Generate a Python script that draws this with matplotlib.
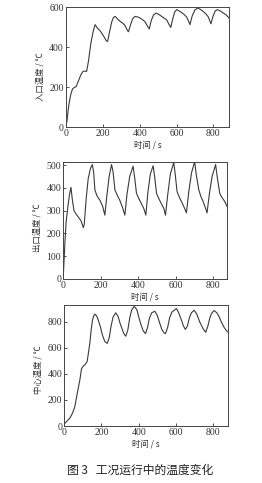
import matplotlib
matplotlib.use("Agg")
import matplotlib.pyplot as plt

# ---- data ----
t_in = [0, 5, 15, 25, 35, 45, 55, 65, 80, 92, 100, 112, 122, 135, 148, 158, 170, 186, 204, 218, 226,
        235, 248, 258, 267, 280, 294, 310, 322, 332, 339, 350, 362, 375, 390, 402, 418, 430, 442, 452,
        462, 475, 490, 505, 520, 535, 547, 558, 569, 578, 590, 601, 615, 628, 642, 655, 665, 673, 685,
        700, 715, 730, 745, 760, 773, 781, 787, 797, 810, 822, 838, 854, 870, 885]
T_in = [5, 30, 110, 160, 190, 198, 202, 225, 260, 278, 280, 278, 330, 420, 480, 512, 495, 480, 455, 432, 428,
        470, 525, 548, 553, 540, 528, 518, 505, 485, 476, 510, 542, 553, 550, 545, 535, 525, 505, 490,
        530, 560, 570, 562, 553, 543, 535, 515, 498, 535, 575, 587, 580, 572, 562, 550, 530, 512, 555,
        585, 595, 588, 578, 565, 550, 530, 516, 550, 580, 587, 580, 570, 560, 545]

t_out = [0, 8, 15, 25, 33, 41, 48, 57, 68, 80, 95, 107, 112, 122, 133, 145, 155, 162, 169, 180, 196, 210,
         222, 232, 245, 258, 266, 276, 290, 302, 318, 329, 340, 355, 373, 382, 391, 405, 418, 432, 441,
         452, 465, 480, 488, 498, 512, 524, 537, 546, 558, 572, 590, 598, 608, 622, 636, 648, 658, 670,
         685, 702, 710, 724, 736, 747, 758, 768, 780, 795, 814, 822, 836, 846, 857, 866, 875]
T_out = [10, 150, 250, 320, 370, 402, 350, 300, 285, 272, 255, 225, 240, 350, 440, 485, 502, 470, 390, 365, 345, 320,
         280, 360, 450, 502, 470, 390, 365, 345, 310, 280, 370, 450, 495, 440, 376, 350, 330, 305, 280,
         380, 460, 497, 450, 376, 350, 330, 310, 280, 370, 460, 512, 460, 383, 355, 332, 310, 290, 380,
         465, 515, 460, 391, 360, 340, 315, 290, 370, 450, 502, 450, 376, 360, 347, 335, 318]

t_mid = [0, 10, 20, 30, 45, 57, 70, 84, 93, 102, 111, 123, 130, 138, 145, 152, 158, 165, 175, 185, 195, 205,
         218, 231, 242, 252, 263, 277, 290, 300, 310, 320, 331, 342, 352, 362, 376, 390, 400, 412, 425,
         437, 448, 458, 470, 487, 500, 513, 525, 537, 544, 556, 566, 578, 603, 615, 630, 640, 651, 662,
         672, 683, 698, 712, 728, 745, 760, 772, 782, 791, 805, 820, 832, 844, 858, 870, 877]
T_mid = [15, 30, 45, 60, 100, 148, 250, 353, 440, 460, 470, 495, 560, 640, 740, 813, 845, 860, 845, 805, 760, 700,
         650, 635, 680, 770, 840, 870, 840, 790, 750, 710, 690, 740, 830, 890, 920, 895, 840, 780, 730,
         710, 760, 830, 870, 882, 850, 790, 740, 715, 710, 760, 830, 875, 903, 870, 813, 770, 742, 770,
         830, 870, 890, 860, 800, 750, 720, 770, 830, 864, 888, 870, 840, 800, 760, 735, 724]

ylabels = ["入口温度 / ℃", "出口温度 / ℃", "中心温度 / ℃"]
xlabel = "时间 / s"
caption = "图 3   工况运行中的温度变化"

CJK = ["Noto Sans CJK SC", "DejaVu Sans"]
NUM = ["Liberation Serif", "DejaVu Serif"]

fig = plt.figure(figsize=(2.62, 4.83), dpi=100)

panels = [
    ([0.252, 0.737, 0.622, 0.2485], t_in, T_in, (0, 885), (0, 600), [0, 200, 400, 600], 0.42),
    ([0.2416, 0.4224, 0.625, 0.243], t_out, T_out, (0, 875), (0, 515), [0, 100, 200, 300, 400, 500], 0.44),
    ([0.245, 0.118, 0.624, 0.2505], t_mid, T_mid, (0, 878), (0, 930), [0, 200, 400, 600, 800], 0.47),
]

line_color = "#3a3a3a"
for (pos, tx, ty, xl, yl, yt, ylab_y), ylab in zip(panels, ylabels):
    ax = fig.add_axes(pos)
    ax.plot(tx, ty, color=line_color, lw=0.8)
    ax.set_xlim(*xl)
    ax.set_ylim(*yl)
    ax.set_xticks([0, 200, 400, 600, 800])
    ax.set_yticks(yt)
    ax.tick_params(direction="in", length=2.5, width=0.6, labelsize=7, pad=1.5, colors="#333333")
    for lab in ax.get_xticklabels() + ax.get_yticklabels():
        lab.set_family(NUM)
    for s in ax.spines.values():
        s.set_linewidth(0.7)
        s.set_color("#444444")
    ax.set_xlabel(xlabel, family=CJK, fontsize=6, labelpad=1.5, color="#333333")
    ax.set_ylabel(ylab, family=CJK, fontsize=6, labelpad=2, color="#333333")
    ax.yaxis.set_label_coords(-0.135, ylab_y)

fig.text(0.536, 0.027, caption, family=CJK, fontsize=8.5, ha="center", va="center", color="#222222")

fig.savefig("out.png", dpi=100)
